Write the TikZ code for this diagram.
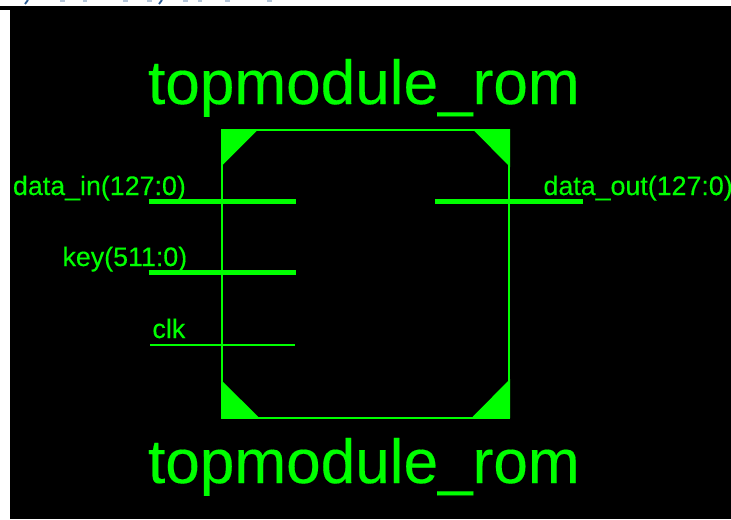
\documentclass[tikz,border=0pt]{standalone}
\usepackage{fontspec}
\setmainfont[FakeBold=0.25]{Liberation Sans}
\definecolor{vgreen}{HTML}{00FF00}
\definecolor{cutblue}{HTML}{2F5F96}
\definecolor{cutpale}{HTML}{B4C6DA}
\tikzset{
  x=0.75pt,y=-0.75pt,
  title/.style={anchor=base west,inner sep=0pt,outer sep=0pt,text=vgreen,font=\fontsize{46.6pt}{50pt}\selectfont},
  pinlabel/.style={anchor=base west,inner sep=0pt,outer sep=0pt,text=vgreen,font=\fontsize{20.1pt}{24pt}\selectfont},
  buspin/.style={draw=vgreen,line width=3.75pt},
  wirepin/.style={draw=vgreen,line width=1.2pt},
  blockline/.style={draw=vgreen,line width=1.2pt},
  corner/.style={fill=vgreen,draw=none},
  cutdesc/.style={draw=cutblue,line width=1.4pt},
  cutfrag/.style={draw=cutpale,line width=0.9pt},
}
\begin{document}
\begin{tikzpicture}
\useasboundingbox (0,0) rectangle (731,519);
\fill[white] (0,0) rectangle (731,519);
\fill[black] (0,6) rectangle (731,10);
\fill[black] (10,10) rectangle (731,519);
% cut-off line of text at the top edge
\draw[cutdesc] (28,0) -- (25,4);
\draw[cutdesc] (162,0) -- (159,4);
\foreach \xa/\xb in {60/65,83/87,123/128,147/152,183/188,198/202,225/230,267/272}
  \draw[cutfrag] (\xa,1) -- (\xb,1);
% block
\coordinate (tl) at (221.7,129.7);
\coordinate (tr) at (509.0,129.7);
\coordinate (br) at (509.0,417.7);
\coordinate (bl) at (221.7,417.7);
\draw[blockline] (tl) -- (tr) -- (br) -- (bl) -- cycle;
\fill[corner] (221,129) -- (258.5,129) -- (221,166.5) -- cycle;
\fill[corner] (472.5,129) -- (510,129) -- (510,167) -- cycle;
\fill[corner] (221,380) -- (221,418) -- (259.5,418) -- cycle;
\fill[corner] (471.5,418) -- (510,418) -- (510,379) -- cycle;
% pins
\coordinate (a1) at (148.5,201.3); \coordinate (a2) at (296,201.3);
\coordinate (b1) at (148.5,272.8); \coordinate (b2) at (296,272.8);
\coordinate (c1) at (150,344.7);   \coordinate (c2) at (295,344.7);
\coordinate (d1) at (435,201.3);   \coordinate (d2) at (583,201.3);
\draw[buspin] (a1) -- (a2);
\draw[buspin] (b1) -- (b2);
\draw[wirepin] (c1) -- (c2);
\draw[buspin] (d1) -- (d2);
% labels
\node[title] (t1) at (148,104) {topmodule\_rom};
\node[title] (t2) at (148,483) {topmodule\_rom};
\node[pinlabel] (l1) at (13,195) {data\_in(127:0)};
\node[pinlabel] (l2) at (62.5,266) {key(511:0)};
\node[pinlabel] (l3) at (152.5,338) {clk};
\node[pinlabel] (l4) at (543.5,195) {data\_out(127:0)};
\end{tikzpicture}
\end{document}
